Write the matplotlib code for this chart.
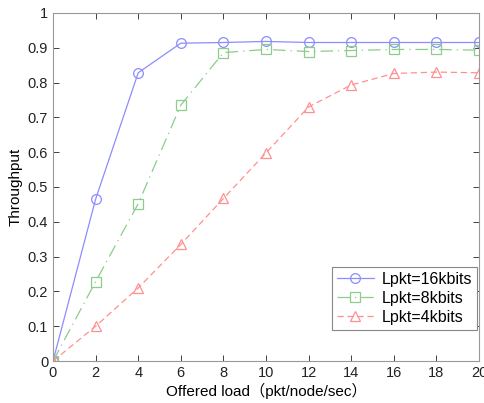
import matplotlib
matplotlib.use("Agg")
import matplotlib.pyplot as plt

plt.rcParams['font.family'] = ['Liberation Sans', 'Noto Sans CJK SC', 'DejaVu Sans']

load = [0, 2, 4, 6, 8, 10, 12, 14, 16, 18, 20]
thr_16k = [0, 0.465, 0.828, 0.913, 0.915, 0.918, 0.915, 0.915, 0.915, 0.915, 0.915]
thr_8k = [0, 0.228, 0.452, 0.735, 0.886, 0.895, 0.889, 0.892, 0.895, 0.895, 0.893]
thr_4k = [0, 0.10, 0.21, 0.335, 0.467, 0.598, 0.730, 0.793, 0.826, 0.830, 0.828]
labels = ['Lpkt=16kbits', 'Lpkt=8kbits', 'Lpkt=4kbits']
xticks = [0, 2, 4, 6, 8, 10, 12, 14, 16, 18, 20]
yticks = [0, 0.1, 0.2, 0.3, 0.4, 0.5, 0.6, 0.7, 0.8, 0.9, 1]

fig = plt.figure(figsize=(4.84, 4.03), dpi=100)
ax = fig.add_axes([0.1095, 0.104, 0.8802, 0.864])

ax.plot(load, thr_16k, color='#8c8cff', linestyle='-', linewidth=0.9,
        marker='o', markersize=7, markerfacecolor='none', markeredgewidth=0.9, label=labels[0])
ax.plot(load, thr_8k, color='#8ccc8c', linestyle=(0, (10, 4, 1, 4)), linewidth=0.9,
        marker='s', markersize=6.5, markerfacecolor='none', markeredgewidth=0.9, label=labels[1])
ax.plot(load, thr_4k, color='#ff9090', linestyle=(0, (5, 3)), linewidth=0.9,
        marker='^', markersize=7.5, markerfacecolor='none', markeredgewidth=0.9, label=labels[2])

ax.set_xlim(0, 20)
ax.set_ylim(0, 1)
ax.set_xticks(xticks)
ax.set_yticks(yticks)
ax.set_yticklabels(['0', '0.1', '0.2', '0.3', '0.4', '0.5', '0.6', '0.7', '0.8', '0.9', '1'])
ax.tick_params(direction='in', top=True, right=True, labelsize=10.5, colors='#222222', length=4, width=0.6)
for tl in ax.get_xticklabels() + ax.get_yticklabels():
    tl.set_color('#222222')
for s in ax.spines.values():
    s.set_color('#999999')
    s.set_linewidth(0.8)

ax.set_xlabel('Offered load（pkt/node/sec）', fontsize=11, labelpad=2)
ax.set_ylabel('Throughput', fontsize=11, labelpad=4)

leg = ax.legend(loc='lower right', bbox_to_anchor=(0.995, 0.09), borderaxespad=0,
                fontsize=11.5, fancybox=False,
                framealpha=1, edgecolor='#888888', handlelength=2.3, borderpad=0.3,
                labelspacing=0.25, handletextpad=0.5)
leg.get_frame().set_linewidth(0.8)

fig.savefig('out.png', dpi=100)
